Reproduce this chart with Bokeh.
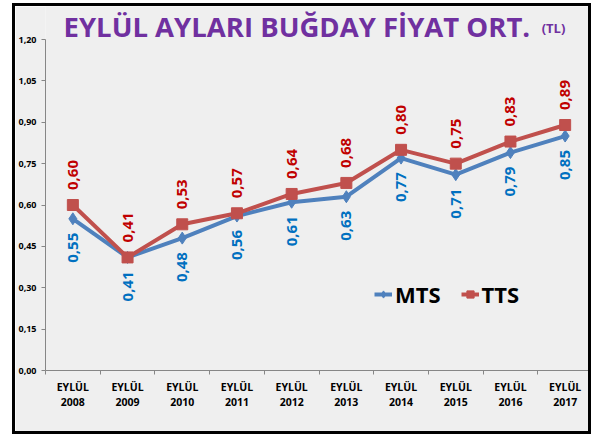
import numpy as np
from bokeh.plotting import figure
from bokeh.models import (ColumnDataSource, FixedTicker, LinearAxis, Range1d,
                          Legend, LegendItem, Label)
from bokeh.embed import file_html
from bokeh.resources import INLINE
from bokeh.core.properties import value

# ---- data ----
years = ["2008", "2009", "2010", "2011", "2012", "2013", "2014", "2015", "2016", "2017"]
month = "EYLÜL"
mts = [0.55, 0.41, 0.48, 0.56, 0.61, 0.63, 0.77, 0.71, 0.79, 0.85]
tts = [0.60, 0.41, 0.53, 0.57, 0.64, 0.68, 0.80, 0.75, 0.83, 0.89]
y_ticks = [0.0, 0.15, 0.3, 0.45, 0.6, 0.75, 0.9, 1.05, 1.2]
y_tick_labels = ["0,00", "0,15", "0,30", "0,45", "0,60", "0,75", "0,90", "1,05", "1,20"]
title_main = "EYLÜL AYLARI BUĞDAY FİYAT ORT."
title_unit = "(TL)"
series_names = ["MTS", "TTS"]

FONT = "Open Sans"
BG = "#EFEFEF"
BLUE = "#4F81BD"
RED = "#C0504D"
BLUE_TXT = "#0070C0"
RED_TXT = "#C00000"
AXIS = "#868686"

# layout (pixels)
FRAME_H = 364          # frame from canvas top down to the x axis
AXIS_H = 331           # pixel height of the 0..1.20 axis span
Y_MAX = y_ticks[-1]
y_top = Y_MAX * FRAME_H / AXIS_H   # room above the axis for the title

x = list(range(len(years)))
src = ColumnDataSource(dict(
    x=x, mts=mts, tts=tts,
    mts_lbl=[f"{v:.2f}".replace(".", ",") for v in mts],
    tts_lbl=[f"{v:.2f}".replace(".", ",") for v in tts],
))

p = figure(width=579, height=431, title=None,
           x_range=Range1d(-0.5, len(years) - 0.5), y_range=Range1d(0, y_top),
           output_backend="svg", toolbar_location=None,
           min_border_left=27, min_border_right=2, min_border_top=0, min_border_bottom=67,
           background_fill_color=BG, border_fill_color=BG, outline_line_color=None,
           styles={"border": "3px solid black"}, margin=(3, 0, 0, 12))
p.grid.visible = False

r_mts = p.line("x", "mts", source=src, line_color=BLUE, line_width=4)
m_mts = p.scatter("x", "mts", source=src, marker="diamond", size=12,
                  fill_color=BLUE, line_color=BLUE)
r_tts = p.line("x", "tts", source=src, line_color=RED, line_width=4)
m_tts = p.scatter("x", "tts", source=src, marker="square", size=11,
                  fill_color=RED, line_color=RED)

p.text("x", "tts", text="tts_lbl", source=src, angle=np.pi / 2,
       text_align="left", text_baseline="middle", y_offset=-15,
       text_color=RED_TXT, text_font=value(FONT), text_font_style="bold",
       text_font_size="15px")
p.text("x", "mts", text="mts_lbl", source=src, angle=np.pi / 2,
       text_align="right", text_baseline="middle", y_offset=14,
       text_color=BLUE_TXT, text_font=value(FONT), text_font_style="bold",
       text_font_size="15px")

# y axis
yax = p.yaxis[0]
yax.ticker = FixedTicker(ticks=y_ticks)
yax.bounds = (y_ticks[0], y_ticks[-1])
yax.major_label_overrides = {t: l for t, l in zip(y_ticks, y_tick_labels)}
yax.axis_line_color = AXIS
yax.major_tick_line_color = AXIS
yax.major_tick_out = 4
yax.major_tick_in = 0
yax.minor_tick_line_color = None
yax.major_label_standoff = 5
yax.major_label_text_font = FONT
yax.major_label_text_font_style = "bold"
yax.major_label_text_font_size = "9px"
yax.major_label_text_color = "#000000"

# x axis (month line)
xax = p.xaxis[0]
xax.ticker = FixedTicker(ticks=x, minor_ticks=[i - 0.5 for i in range(len(years) + 1)])
xax.major_label_overrides = {i: month for i in x}
xax.axis_line_color = AXIS
xax.major_tick_line_color = None
xax.major_tick_out = 0
xax.major_tick_in = 0
xax.minor_tick_line_color = AXIS
xax.minor_tick_out = 4
xax.minor_tick_in = 0
xax.major_label_standoff = 5
xax.major_label_text_font = FONT
xax.major_label_text_font_style = "bold"
xax.major_label_text_font_size = "10.5px"
xax.major_label_text_color = "#000000"

# x axis (year line)
yr_ax = LinearAxis(ticker=FixedTicker(ticks=x),
                   major_label_overrides={i: y for i, y in zip(x, years)},
                   axis_line_color=None, major_tick_line_color=None,
                   minor_tick_line_color=None, major_label_standoff=-5,
                   major_label_text_font=FONT, major_label_text_font_style="bold",
                   major_label_text_font_size="10.5px", major_label_text_color="#000000")
p.add_layout(yr_ax, "below")

# title (inside the frame, above the 1,20 tick)
title_y = Y_MAX + 13 * Y_MAX / AXIS_H
p.add_layout(Label(x=-0.17, y=title_y, text=title_main, text_font=FONT,
                   text_font_style="bold", text_font_size="27.5px", text_color="#7030A0",
                   text_align="left", text_baseline="middle"))
p.add_layout(Label(x=8.57, y=title_y - 1 * Y_MAX / AXIS_H, text=title_unit, text_font=FONT,
                   text_font_style="bold", text_font_size="13px", text_color="#7030A0",
                   text_align="left", text_baseline="middle"))

legend = Legend(items=[LegendItem(label=series_names[0], renderers=[r_mts, m_mts]),
                       LegendItem(label=series_names[1], renderers=[r_tts, m_tts])],
                orientation="horizontal", location=(329, 61),
                label_text_font=FONT, label_text_font_style="bold",
                label_text_font_size="22px", label_text_color="#000000",
                glyph_width=18, glyph_height=20, label_standoff=3, spacing=20,
                padding=0, margin=0, background_fill_alpha=0, border_line_alpha=0)
p.add_layout(legend)

open("out.html", "w").write(file_html(p, INLINE))
